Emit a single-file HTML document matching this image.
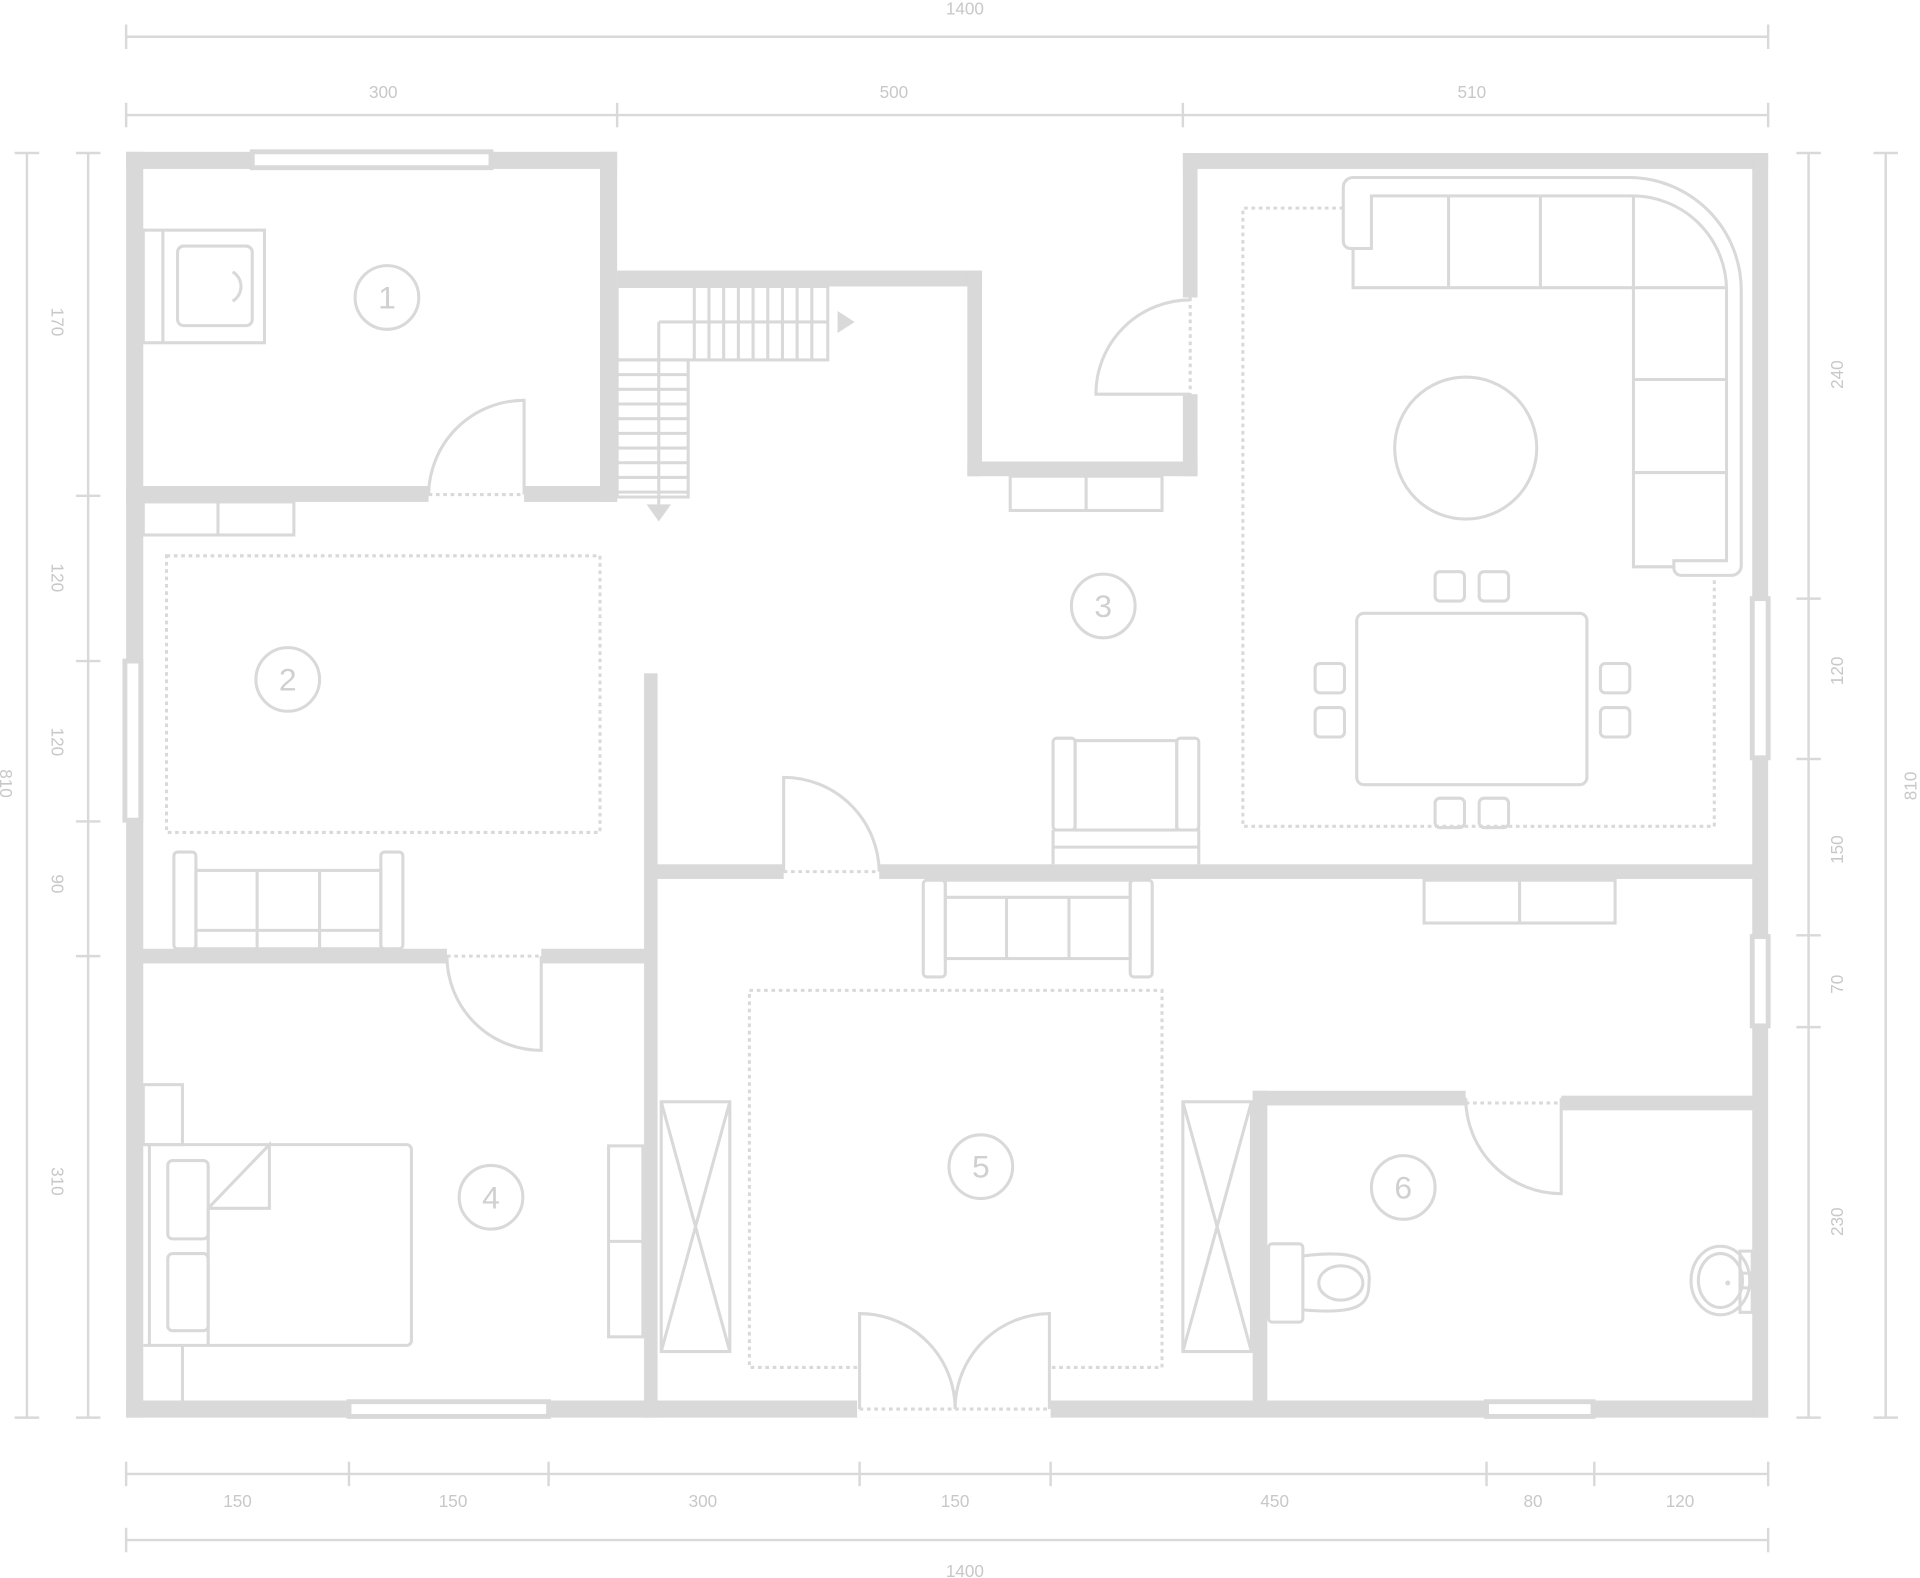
<!DOCTYPE html>
<html><head><style>html,body{margin:0;padding:0;background:#fff}svg{display:block}</style></head>
<body>
<svg width="1920" height="1578" viewBox="0 0 1568 1289" preserveAspectRatio="none" xmlns="http://www.w3.org/2000/svg" font-family="Liberation Sans, sans-serif">
<g stroke="#d9d9d9" fill="none">
<g stroke-width="2">
<line x1="103" y1="30" x2="1444" y2="30"/><line x1="103" y1="20" x2="103" y2="40"/><line x1="1444" y1="20" x2="1444" y2="40"/>
<line x1="103" y1="94" x2="1444" y2="94"/>
<line x1="103" y1="84" x2="103" y2="104"/><line x1="504" y1="84" x2="504" y2="104"/><line x1="966" y1="84" x2="966" y2="104"/><line x1="1444" y1="84" x2="1444" y2="104"/>
<line x1="22" y1="125" x2="22" y2="1158"/><line x1="12" y1="125" x2="32" y2="125"/><line x1="12" y1="1158" x2="32" y2="1158"/>
<line x1="72" y1="125" x2="72" y2="1158"/>
<line x1="62" y1="125" x2="82" y2="125"/><line x1="62" y1="405" x2="82" y2="405"/><line x1="62" y1="540" x2="82" y2="540"/><line x1="62" y1="671" x2="82" y2="671"/><line x1="62" y1="781" x2="82" y2="781"/><line x1="62" y1="1158" x2="82" y2="1158"/>
<line x1="1477" y1="125" x2="1477" y2="1158"/>
<line x1="1467" y1="125" x2="1487" y2="125"/><line x1="1467" y1="489" x2="1487" y2="489"/><line x1="1467" y1="620" x2="1487" y2="620"/><line x1="1467" y1="764" x2="1487" y2="764"/><line x1="1467" y1="839" x2="1487" y2="839"/><line x1="1467" y1="1158" x2="1487" y2="1158"/>
<line x1="1540" y1="125" x2="1540" y2="1158"/><line x1="1530" y1="125" x2="1550" y2="125"/><line x1="1530" y1="1158" x2="1550" y2="1158"/>
<line x1="103" y1="1204" x2="1444" y2="1204"/>
<line x1="103" y1="1194" x2="103" y2="1214"/><line x1="285" y1="1194" x2="285" y2="1214"/><line x1="448" y1="1194" x2="448" y2="1214"/><line x1="702" y1="1194" x2="702" y2="1214"/><line x1="858" y1="1194" x2="858" y2="1214"/><line x1="1214" y1="1194" x2="1214" y2="1214"/><line x1="1302" y1="1194" x2="1302" y2="1214"/><line x1="1444" y1="1194" x2="1444" y2="1214"/>
<line x1="103" y1="1258" x2="1444" y2="1258"/><line x1="103" y1="1248" x2="103" y2="1268"/><line x1="1444" y1="1248" x2="1444" y2="1268"/>
</g>
</g>
<g fill="#c8c8c8" font-size="14" text-anchor="middle">
<text x="788" y="12">1400</text>
<text x="313" y="80">300</text><text x="730" y="80">500</text><text x="1202" y="80">510</text>
<text x="194" y="1231">150</text><text x="370" y="1231">150</text><text x="574" y="1231">300</text><text x="780" y="1231">150</text><text x="1041" y="1231">450</text><text x="1252" y="1231">80</text><text x="1372" y="1231">120</text>
<text x="788" y="1288">1400</text>
<text transform="translate(0,640) rotate(90)">810</text>
<text transform="translate(42,263) rotate(90)">170</text>
<text transform="translate(42,472) rotate(90)">120</text>
<text transform="translate(42,606) rotate(90)">120</text>
<text transform="translate(42,722) rotate(90)">90</text>
<text transform="translate(42,965) rotate(90)">310</text>
<text transform="translate(1505,306) rotate(-90)">240</text>
<text transform="translate(1505,548) rotate(-90)">120</text>
<text transform="translate(1505,694) rotate(-90)">150</text>
<text transform="translate(1505,804) rotate(-90)">70</text>
<text transform="translate(1505,998) rotate(-90)">230</text>
<text transform="translate(1565,642) rotate(-90)">810</text>
</g>

<g fill="#d9d9d9">
<rect x="103" y="124" width="401" height="14"/>
<rect x="103" y="124" width="14" height="1034"/>
<rect x="103" y="1144" width="1341" height="14"/>
<rect x="966" y="125" width="478" height="13"/>
<rect x="1431" y="125" width="13" height="1033"/>
<rect x="490" y="124" width="14" height="286"/>
<rect x="103" y="397" width="247" height="13"/>
<rect x="428" y="397" width="76" height="13"/>
<rect x="504" y="221" width="298" height="13"/>
<rect x="790" y="221" width="12" height="168"/>
<rect x="790" y="377" width="188" height="12"/>
<rect x="966" y="125" width="12" height="118"/>
<rect x="966" y="322" width="12" height="67"/>
<rect x="526" y="550" width="11" height="608"/>
<rect x="531" y="706" width="109" height="12"/>
<rect x="718" y="706" width="719" height="12"/>
<rect x="110" y="775" width="255" height="12"/>
<rect x="442" y="775" width="89" height="12"/>
<rect x="1023" y="891" width="12" height="260"/>
<rect x="1023" y="891" width="174" height="12"/>
<rect x="1275" y="895" width="162" height="12"/>
</g>
<g fill="#fff" stroke="#d9d9d9" stroke-width="4">
<rect x="206" y="124" width="195" height="13"/>
<rect x="102" y="540" width="13" height="130"/>
<rect x="1431" y="489" width="13" height="130"/>
<rect x="1431" y="765" width="13" height="73"/>
<rect x="285" y="1145" width="163" height="12"/>
<rect x="1214" y="1145" width="87" height="12"/>
</g>
<rect x="700" y="1144" width="158" height="14" fill="#fff"/>
<g fill="none" stroke="#d9d9d9" stroke-width="2.5">
<path d="M428 404 V327 A78 78 0 0 0 350 404"/>
<path d="M972 322 H895 A77 77 0 0 1 972 245"/>
<path d="M640 712 V635 A78 78 0 0 1 718 712"/>
<path d="M365 781 A77 77 0 0 0 442 858 V781"/>
<path d="M1197 897 A78 78 0 0 0 1275 975 V897"/>
<path d="M702 1151 V1073 A78 78 0 0 1 780 1151"/>
<path d="M857 1151 V1073 A78 78 0 0 0 780 1151"/>
<g stroke-dasharray="3 3">
<line x1="350" y1="404" x2="428" y2="404"/>
<line x1="972" y1="243" x2="972" y2="322"/>
<line x1="640" y1="712" x2="718" y2="712"/>
<line x1="365" y1="781" x2="442" y2="781"/>
<line x1="1197" y1="901" x2="1275" y2="901"/>
<line x1="702" y1="1151" x2="857" y2="1151"/>
<rect x="136" y="454" width="354" height="226"/>
<path d="M1097 170 H1015 V675 H1400 V470"/>
<path d="M700 1117 H612 V809 H949 V1117 H858"/>
</g>
<rect x="504" y="234" width="172" height="60"/>
<path d="M538 263 H676"/>
<path d="M567 234 V294 M579 234 V294 M591 234 V294 M603 234 V294 M615 234 V294 M627 234 V294 M639 234 V294 M651 234 V294 M663 234 V294"/>
<rect x="504" y="294" width="58" height="112"/>
<path d="M504 306 H562 M504 318 H562 M504 330 H562 M504 342 H562 M504 354 H562 M504 366 H562 M504 378 H562 M504 390 H562 M504 402 H562"/>
<path d="M538 263 V412"/>
<rect x="117" y="188" width="99" height="92"/>
<line x1="133" y1="188" x2="133" y2="280"/>
<rect x="145" y="201" width="61" height="65" rx="5"/>
<path d="M190 222 A14 14 0 0 1 190 246"/>
<rect x="117" y="410" width="123" height="27"/><line x1="178" y1="410" x2="178" y2="437"/>
<rect x="142" y="696" width="18" height="79" rx="3"/><rect x="311" y="696" width="18" height="79" rx="3"/>
<rect x="160" y="711" width="151" height="64"/><path d="M210 711 V775 M261 711 V775 M160 760 H311"/>
<path d="M1105 145 H1330 A92 92 0 0 1 1422 237 V462 A8 8 0 0 1 1414 470 H1373 A6 6 0 0 1 1367 464 V458 H1410 V237 A77 77 0 0 0 1333 160 H1120 V203 H1103 A6 6 0 0 1 1097 197 V153 A8 8 0 0 1 1105 145"/>
<path d="M1105 203 V235 H1410 M1183 160 V235 M1258 160 V235 M1334 160 V463 H1367 M1334 310 H1410 M1334 386 H1410"/>
<circle cx="1197" cy="366" r="58"/>
<rect x="1108" y="501" width="188" height="140" rx="6"/>
<rect x="1172" y="467" width="24" height="24" rx="4"/><rect x="1208" y="467" width="24" height="24" rx="4"/>
<rect x="1172" y="652" width="24" height="24" rx="4"/><rect x="1208" y="652" width="24" height="24" rx="4"/>
<rect x="1074" y="542" width="24" height="24" rx="4"/><rect x="1074" y="578" width="24" height="24" rx="4"/>
<rect x="1307" y="542" width="24" height="24" rx="4"/><rect x="1307" y="578" width="24" height="24" rx="4"/>
<rect x="860" y="603" width="18" height="75" rx="3"/><rect x="961" y="603" width="18" height="75" rx="3"/>
<rect x="878" y="605" width="83" height="73"/>
<path d="M860 678 H979 V706 M860 678 V706 M860 692 H979"/>
<rect x="825" y="389" width="124" height="28"/><line x1="887" y1="389" x2="887" y2="417"/>
<rect x="1163" y="719" width="156" height="35"/><line x1="1241" y1="719" x2="1241" y2="754"/>
<rect x="754" y="719" width="18" height="79" rx="3"/><rect x="923" y="719" width="18" height="79" rx="3"/>
<rect x="772" y="719" width="151" height="64"/><path d="M822 733 V783 M873 733 V783 M772 733 H923"/>
<rect x="540" y="900" width="56" height="204"/><path d="M540 900 L596 1104 M596 900 L540 1104"/>
<rect x="966" y="900" width="56" height="204"/><path d="M966 900 L1022 1104 M1022 900 L966 1104"/>
<rect x="117" y="886" width="32" height="49"/><path d="M149 1099 V1144"/>
<path d="M117 935 H332 A4 4 0 0 1 336 939 V1095 A4 4 0 0 1 332 1099 H117"/>
<line x1="122" y1="935" x2="122" y2="1099"/>
<rect x="137" y="948" width="33" height="64" rx="4"/><rect x="137" y="1024" width="33" height="63" rx="4"/>
<path d="M170 1099 V987 L220 935 V987 H170"/>
<rect x="497" y="936" width="28" height="156"/><line x1="497" y1="1014" x2="525" y2="1014"/>
<rect x="1036" y="1016" width="28" height="64" rx="3"/>
<path d="M1064 1026 C1110 1020 1120 1030 1118 1048 C1118 1066 1110 1074 1064 1070"/>
<ellipse cx="1095" cy="1048" rx="18" ry="14"/>
<ellipse cx="1405" cy="1046" rx="24" ry="28"/><ellipse cx="1405" cy="1046" rx="18" ry="22"/>
<rect x="1421" y="1022" width="10" height="50"/><line x1="1421" y1="1040" x2="1431" y2="1040"/><line x1="1421" y1="1052" x2="1431" y2="1052"/>
<circle cx="316" cy="243" r="26"/><circle cx="235" cy="555" r="26"/><circle cx="901" cy="495" r="26"/>
<circle cx="401" cy="978" r="26"/><circle cx="801" cy="953" r="26"/><circle cx="1146" cy="970" r="26"/>
</g>
<g fill="#d9d9d9">
<polygon points="684,254 698,263 684,272"/>
<polygon points="528,412 548,412 538,426"/>
<circle cx="1411" cy="1048" r="2"/>
</g>
<g fill="#d0d0d0" font-size="26" text-anchor="middle">
<text x="316" y="252">1</text><text x="235" y="564">2</text><text x="901" y="504">3</text>
<text x="401" y="987">4</text><text x="801" y="962">5</text><text x="1146" y="979">6</text>
</g>
</svg>
</body></html>
